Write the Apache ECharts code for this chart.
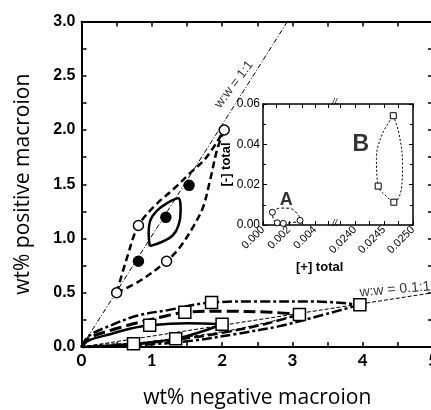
<!DOCTYPE html>
<html><head><meta charset="utf-8">
<script src="https://cdn.jsdelivr.net/npm/echarts@6/dist/echarts.min.js"></script>
<style>html,body{margin:0;padding:0;background:#fff}#c{width:431px;height:410px}</style>
</head><body><div id="c"></div>
<script>
// ---------- data ----------
const mainXTicks = [0, 1, 2, 3, 4, 5];
const mainYTicks = [0, 0.5, 1.0, 1.5, 2.0, 2.5, 3.0];
const insetYTicks = [0, 0.02, 0.04, 0.06];
const insetXTicksLeft = [0.000, 0.002, 0.004];
const insetXTicksRight = [0.0240, 0.0245, 0.0250];

// reference composition lines
const line11 = [[0, 0], [2.93, 3.0]];          // w:w = 1:1
const line01 = [[0, 0], [5.0, 0.5]];           // w:w = 0.1:1

// 1:1 family
const openCircles = [[0.5, 0.5], [0.81, 1.12], [1.21, 0.79], [2.03, 2.0]];
const filledCircles = [[0.81, 0.79], [1.20, 1.195], [1.53, 1.49]];
const outerUpper = [[0.5, 0.5], [0.66, 0.85], [0.81, 1.12], [1.07, 1.32], [1.30, 1.45], [1.54, 1.60], [1.78, 1.75], [2.03, 2.0]];
const outerLower = [[0.5, 0.5], [0.83, 0.61], [1.21, 0.79], [1.40, 0.92], [1.59, 1.11], [1.73, 1.29], [1.83, 1.54], [1.93, 1.82], [2.03, 2.0]];
const lensLoop = [[0.97, 0.93], [0.955, 1.05], [0.975, 1.16], [1.07, 1.255], [1.23, 1.33], [1.375, 1.37], [1.41, 1.25], [1.38, 1.12], [1.30, 1.03], [1.15, 0.97], [0.97, 0.93]];

// 0.1:1 family
const squares = [[0.74, 0.03], [0.97, 0.20], [1.34, 0.075], [1.47, 0.32], [1.85, 0.41], [2.0, 0.21], [3.1, 0.30], [3.96, 0.39]];
const dashDotUpper = [[0, 0], [0.1, 0.1], [0.42, 0.2], [0.8, 0.29], [1.23, 0.34], [1.85, 0.41], [2.5, 0.42], [3.3, 0.42], [3.96, 0.39]];
const longDashUpper = [[0, 0], [0.1, 0.08], [0.5, 0.17], [0.9, 0.24], [1.23, 0.29], [1.47, 0.32], [2.0, 0.33], [2.7, 0.32], [3.1, 0.30]];
const solidUpper = [[0, 0], [0.1, 0.06], [0.42, 0.12], [0.7, 0.17], [0.97, 0.20], [1.5, 0.22], [2.0, 0.21]];
const solidLower = [[2.0, 0.21], [1.7, 0.14], [1.34, 0.075], [1.0, 0.045], [0.6, 0.02], [0.2, 0.005], [0, 0]];
const longDashLower = [[3.1, 0.30], [2.6, 0.21], [2.0, 0.13], [1.5, 0.08], [1.0, 0.04], [0.5, 0.012], [0, 0]];
const dashDotLower = [[3.96, 0.39], [3.4, 0.29], [2.8, 0.19], [2.2, 0.12], [1.6, 0.06], [1.0, 0.025], [0.4, 0.006], [0, 0]];
const thinDashLower = [[0, 0], [0.3, 0.025], [0.74, 0.035], [1.34, 0.08], [2.0, 0.14], [2.6, 0.22], [3.1, 0.30]];

// inset A and B
const aPoints = [[0.00072, 0.0063], [0.0011, 0.0011], [0.00156, 0.0008], [0.00285, 0.0023]];
const aLoop = [[0.00072, 0.0063], [0.0013, 0.0084], [0.002, 0.0083], [0.0027, 0.0052], [0.00285, 0.0023], [0.0021, 0.0011], [0.00156, 0.0008], [0.0011, 0.0011], [0.0008, 0.003], [0.00072, 0.0063]];
const bPoints = [[0.02466, 0.0542], [0.0244, 0.0193], [0.02467, 0.0113]];
const bLoop = [[0.02466, 0.0542], [0.02476, 0.045], [0.02482, 0.03], [0.0248, 0.018], [0.02467, 0.0113], [0.02455, 0.014], [0.0244, 0.0193], [0.02437, 0.033], [0.02447, 0.045], [0.02466, 0.0542]];

// annotation anchors (data coords)
const label11 = [2.17, 2.42];
const label01 = [4.46, 0.53];
const labelA = [0.0018, 0.0125];
const labelB = [0.0241, 0.0397];

// ---------- chart ----------
const chart = echarts.init(document.getElementById('c'), null, {renderer: 'canvas'});
const INL = {left: 263, top: 104, width: 74, height: 121};
const INR = {left: 337, top: 104, width: 76, height: 121};
const black = '#000';

function ln(data, width, type, xi, yi, smooth) {
  return {type: 'line', data, xAxisIndex: xi || 0, yAxisIndex: yi || 0, smooth: smooth === undefined ? 0.35 : smooth,
    symbol: 'none', silent: true, lineStyle: {color: black, width, type}, z: 3};
}
function sc(data, symbol, size, fill, xi, yi, bw) {
  return {type: 'scatter', data, xAxisIndex: xi || 0, yAxisIndex: yi || 0, symbol, symbolSize: size, silent: true,
    itemStyle: {color: fill, borderColor: black, borderWidth: bw || 1.5, opacity: 1}, z: 5};
}
function txt(pos, text, size, weight, rotate, xi, yi) {
  return {type: 'scatter', data: [pos], xAxisIndex: xi || 0, yAxisIndex: yi || 0, symbolSize: 0, silent: true, z: 6,
    label: {show: true, position: 'inside', formatter: text, rotate: rotate || 0, color: black,
      fontFamily: 'Liberation Sans', fontSize: size, fontWeight: weight}};
}

const tickCommon = {show: true, inside: true, length: 5, lineStyle: {color: black, width: 1.5}};
const mainAxisCommon = {
  type: 'value', axisLine: {show: true, onZero: false, lineStyle: {color: black, width: 2}},
  axisTick: tickCommon,
  minorTick: {show: true, splitNumber: 2, length: 5, lineStyle: {color: black, width: 1.5}},
  splitLine: {show: false}, minorSplitLine: {show: false}
};
const insetTick = (vals) => ({show: true, inside: true, length: 4, lineStyle: {color: black, width: 1}, customValues: vals});
const insetAxisCommon = {
  type: 'value', axisLine: {show: true, onZero: false, lineStyle: {color: black, width: 1.5}},
  axisTick: {show: true, inside: true, length: 4, lineStyle: {color: black, width: 1}},
  minorTick: {show: true, splitNumber: 2, length: 3, lineStyle: {color: black, width: 1}},
  splitLine: {show: false}, minorSplitLine: {show: false}
};
const leftTickVals = [0, 0.001, 0.002, 0.003, 0.004, 0.005];
const rightTickVals = [0.02375, 0.024, 0.02425, 0.0245, 0.02475, 0.025];

const option = {
  animation: false,
  backgroundColor: '#fff',
  grid: [
    {left: 81.5, top: 21.5, right: -2, bottom: 63, containLabel: false, outerBoundsMode: 'none'},
    Object.assign({show: true, backgroundColor: '#fff', borderWidth: 0, outerBoundsMode: 'none'}, INL),
    Object.assign({show: true, backgroundColor: '#fff', borderWidth: 0, outerBoundsMode: 'none'}, INR)
  ],
  xAxis: [
    Object.assign({}, mainAxisCommon, {gridIndex: 0, position: 'bottom', min: mainXTicks[0], max: mainXTicks[mainXTicks.length - 1], interval: 1,
      axisLabel: {show: true, margin: 5, color: black, fontFamily: 'Lato', fontWeight: 'bold', fontSize: 17, formatter: v => String(v), showMaxLabel: true},
      name: 'wt% negative macroion', nameLocation: 'middle', nameGap: 41,
      nameTextStyle: {fontFamily: 'Open Sans', fontSize: 21, color: black}}),
    Object.assign({}, mainAxisCommon, {gridIndex: 0, position: 'top', min: 0, max: 5, interval: 1, axisLabel: {show: false}}),
    Object.assign({}, insetAxisCommon, {gridIndex: 1, position: 'bottom', min: 0, max: 0.0057,
      axisLabel: {show: true, rotate: 45, margin: 3, fontFamily: 'Liberation Sans', fontSize: 11, color: black,
        customValues: insetXTicksLeft, formatter: v => v.toFixed(3)},
      axisTick: insetTick(leftTickVals), minorTick: {show: false}}),
    Object.assign({}, insetAxisCommon, {gridIndex: 1, position: 'top', min: 0, max: 0.0057, axisLabel: {show: false},
      axisTick: insetTick(leftTickVals), minorTick: {show: false}}),
    Object.assign({}, insetAxisCommon, {gridIndex: 2, position: 'bottom', min: 0.02369, max: 0.0250,
      axisLabel: {show: true, rotate: 45, margin: 3, fontFamily: 'Liberation Sans', fontSize: 11, color: black,
        customValues: insetXTicksRight, formatter: v => v.toFixed(4), showMaxLabel: true},
      axisTick: insetTick(rightTickVals), minorTick: {show: false}}),
    Object.assign({}, insetAxisCommon, {gridIndex: 2, position: 'top', min: 0.02369, max: 0.0250, axisLabel: {show: false},
      axisTick: insetTick(rightTickVals), minorTick: {show: false}})
  ],
  yAxis: [
    Object.assign({}, mainAxisCommon, {gridIndex: 0, position: 'left', min: mainYTicks[0], max: mainYTicks[mainYTicks.length - 1], interval: 0.5,
      axisLabel: {show: true, margin: 6, color: black, fontFamily: 'Liberation Sans', fontWeight: 'bold', fontSize: 16, formatter: v => v.toFixed(1)},
      name: 'wt% positive macroion', nameLocation: 'middle', nameGap: 48, nameRotate: 90,
      nameTextStyle: {fontFamily: 'Open Sans', fontSize: 21, color: black}}),
    Object.assign({}, mainAxisCommon, {gridIndex: 0, position: 'right', min: 0, max: 3, interval: 0.5, axisLabel: {show: false}}),
    Object.assign({}, insetAxisCommon, {gridIndex: 1, position: 'left', min: insetYTicks[0], max: insetYTicks[insetYTicks.length - 1], interval: 0.02,
      axisLabel: {show: true, margin: 3, fontFamily: 'Liberation Sans', fontSize: 12, color: black, formatter: v => v.toFixed(2)},
      name: '[-] total', nameLocation: 'middle', nameGap: 29, nameRotate: 90,
      nameTextStyle: {fontFamily: 'Liberation Sans', fontWeight: 'bold', fontSize: 13, color: black}}),
    Object.assign({}, insetAxisCommon, {gridIndex: 2, position: 'right', min: 0, max: 0.06, interval: 0.02, axisLabel: {show: false}})
  ],
  series: [
    // 1:1 family
    ln(line11, 1, [5, 2, 1, 2], 0, 0, false),
    ln(outerUpper, 2.5, [7, 4]),
    ln(outerLower, 2.5, [7, 4]),
    ln(lensLoop, 2.5, 'solid', 0, 0, 0.45),
    sc(openCircles, 'circle', 10, '#fff'),
    sc(filledCircles, 'circle', 10, black),
    // 0.1:1 family
    ln(line01, 1, [4, 2], 0, 0, false),
    ln(dashDotUpper, 2.5, [10, 3, 3, 3]),
    ln(longDashUpper, 3, [12, 5]),
    ln(solidUpper, 2.5, 'solid'),
    ln(solidLower, 2.5, 'solid'),
    ln(longDashLower, 2.5, [10, 4]),
    ln(dashDotLower, 2.5, [10, 3, 3, 3]),
    ln(thinDashLower, 1, [4, 2]),
    sc(squares, 'rect', 12, '#fff'),
    txt(label11, 'w:w = 1:1', 13, 'normal', 53),
    txt(label01, 'w:w = 0.1:1', 14, 'normal', 5),
    // inset
    ln(aLoop, 1, [3, 2], 2, 2, 0.4),
    sc(aPoints, 'circle', 6, '#fff', 2, 2, 1),
    ln(bLoop, 1, [2, 2], 4, 3, 0.4),
    sc(bPoints, 'rect', 6, '#fff', 4, 3, 1),
    txt(labelA, 'A', 18, 'bold', 0, 2, 2),
    txt(labelB, 'B', 23, 'bold', 0, 4, 3)
  ],
  graphic: [
    {type: 'text', left: INR.left - 5, top: INR.top - 6, z: 10, silent: true,
      style: {text: '//', fill: black, font: 'italic 9px "Liberation Sans"'}},
    {type: 'text', left: INR.left - 5, top: INR.top + INR.height - 6, z: 10, silent: true,
      style: {text: '//', fill: black, font: 'italic 9px "Liberation Sans"'}},
    {type: 'text', left: 296, top: 261, z: 10, silent: true,
      style: {text: '[+] total', fill: black, font: 'bold 13px "Liberation Sans"'}}
  ]
};
chart.setOption(option);
</script></body></html>
